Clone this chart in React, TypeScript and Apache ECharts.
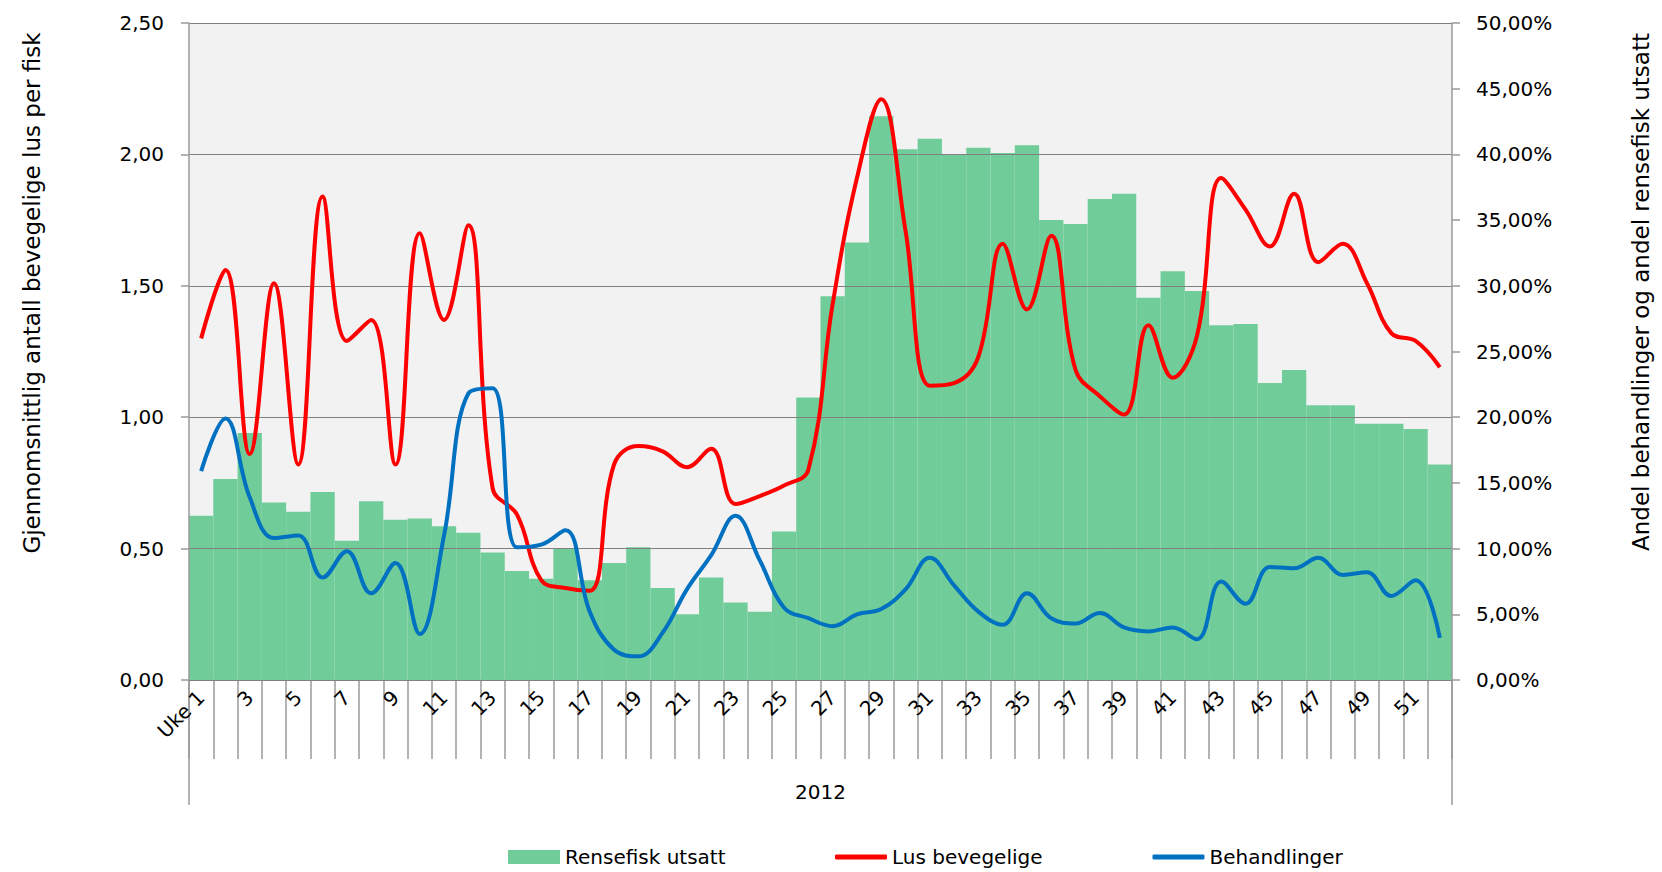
import React, { useEffect, useRef } from "react";
import * as echarts from "echarts";

const weeks = [
  "Uke 1", "2", "3", "4", "5", "6", "7", "8", "9", "10",
  "11", "12", "13", "14", "15", "16", "17", "18", "19", "20",
  "21", "22", "23", "24", "25", "26", "27", "28", "29", "30",
  "31", "32", "33", "34", "35", "36", "37", "38", "39", "40",
  "41", "42", "43", "44", "45", "46", "47", "48", "49", "50",
  "51", "52",
];
const yearGroup = ["2012"];

// Rensefisk utsatt (%), right axis
const rensefisk = [
  12.5, 15.3, 18.8, 13.5, 12.8, 14.3, 10.6, 13.6, 12.2, 12.3,
  11.7, 11.2, 9.7, 8.3, 7.7, 10.0, 7.6, 8.9, 10.1, 7.0,
  5.0, 7.8, 5.9, 5.2, 11.3, 21.5, 29.2, 33.3, 42.9, 40.4,
  41.2, 40.0, 40.5, 40.1, 40.7, 35.0, 34.7, 36.6, 37.0, 29.1,
  31.1, 29.6, 27.0, 27.1, 22.6, 23.6, 20.9, 20.9, 19.5, 19.5,
  19.1, 16.4,
];

// Lus bevegelige (per fish), left axis
const lus = [
  1.30, 1.56, 0.86, 1.51, 0.82, 1.84, 1.29, 1.37, 0.82, 1.70,
  1.37, 1.73, 0.73, 0.63, 0.38, 0.35, 0.34, 0.82, 0.89, 0.87,
  0.81, 0.88, 0.67, 0.70, 0.74, 0.80, 1.43, 1.91, 2.21, 1.71,
  1.12, 1.13, 1.23, 1.66, 1.41, 1.69, 1.18, 1.08, 1.01, 1.35,
  1.15, 1.31, 1.91, 1.79, 1.65, 1.85, 1.59, 1.66, 1.51, 1.32,
  1.29, 1.19,
];

// Behandlinger (%), right axis
const behandlinger = [
  15.9, 19.9, 13.9, 10.8, 11.0, 7.8, 9.8, 6.6, 8.9, 3.5,
  11.0, 21.8, 22.2, 10.1, 10.3, 11.4, 5.2, 2.3, 1.8, 3.6,
  6.9, 9.5, 12.5, 9.1, 5.5, 4.7, 4.1, 5.0, 5.4, 6.9,
  9.3, 7.2, 5.2, 4.2, 6.6, 4.7, 4.3, 5.1, 4.0, 3.7,
  4.0, 3.1, 7.5, 5.8, 8.6, 8.5, 9.3, 8.0, 8.2, 6.4,
  7.6, 3.2,
];

const FONT = "DejaVu Sans";
const AXIS_GRAY = "#9a9a9a";
const GRID_GRAY = "#808080";

export default function App() {
  const ref = useRef<HTMLDivElement>(null);

  useEffect(() => {
    if (!ref.current) return;
    const chart = echarts.init(ref.current, null, { renderer: "svg" });
    const gridBox = { left: 189, right: 210, top: 23, bottom: 192 };
    const legendText = { fontFamily: FONT, fontSize: 20, color: "#000" };
    chart.setOption({
      animation: false,
      backgroundColor: "#ffffff",
      textStyle: { fontFamily: FONT },
      grid: [
        { ...gridBox, show: true, backgroundColor: "#f2f2f2", borderWidth: 0 },
        { ...gridBox, show: false },
      ],
      legend: [
        {
          left: 503,
          top: 842,
          itemWidth: 52,
          itemHeight: 14,
          icon: "rect",
          textStyle: legendText,
          data: ["Rensefisk utsatt"],
        },
        {
          left: 830,
          top: 842,
          itemWidth: 52,
          itemHeight: 5,
          itemGap: 110,
          icon: "roundRect",
          textStyle: legendText,
          data: ["Lus bevegelige", "Behandlinger"],
        },
      ],
      xAxis: [
        {
          type: "category",
          gridIndex: 0,
          data: weeks,
          boundaryGap: true,
          axisLine: { show: true, lineStyle: { color: AXIS_GRAY, width: 1.5 } },
          axisTick: {
            show: true,
            interval: 0,
            length: 79,
            lineStyle: { color: AXIS_GRAY, width: 1.5 },
          },
          axisLabel: {
            interval: 1,
            rotate: 45,
            margin: 14,
            fontFamily: FONT,
            fontSize: 20,
            color: "#000",
          },
          splitLine: { show: false },
        },
        {
          type: "category",
          gridIndex: 1,
          data: yearGroup,
          boundaryGap: true,
          axisLine: { show: false },
          axisTick: {
            show: true,
            length: 125,
            lineStyle: { color: AXIS_GRAY, width: 1.5 },
          },
          axisLabel: {
            margin: 102,
            fontFamily: FONT,
            fontSize: 20,
            color: "#000",
          },
          splitLine: { show: false },
        },
      ],
      yAxis: [
        {
          type: "value",
          gridIndex: 0,
          position: "left",
          min: 0,
          max: 2.5,
          interval: 0.5,
          z: 3,
          axisLine: { show: true, lineStyle: { color: AXIS_GRAY, width: 1.5 } },
          axisTick: { show: true, length: 8, lineStyle: { color: AXIS_GRAY, width: 1.5 } },
          axisLabel: {
            margin: 25,
            fontFamily: FONT,
            fontSize: 20,
            color: "#000",
            formatter: (v: number) => v.toFixed(2).replace(".", ","),
          },
          splitLine: { show: true, lineStyle: { color: GRID_GRAY, width: 1 } },
        },
        {
          type: "value",
          gridIndex: 0,
          position: "right",
          min: 0,
          max: 50,
          interval: 5,
          z: 3,
          axisLine: { show: true, lineStyle: { color: AXIS_GRAY, width: 1.5 } },
          axisTick: { show: true, length: 8, lineStyle: { color: AXIS_GRAY, width: 1.5 } },
          axisLabel: {
            margin: 24,
            fontFamily: FONT,
            fontSize: 20,
            color: "#000",
            formatter: (v: number) => v.toFixed(2).replace(".", ",") + "%",
          },
          splitLine: { show: false },
        },
        {
          type: "value",
          gridIndex: 1,
          show: false,
          min: 0,
          max: 1,
        },
      ],
      graphic: [
        {
          type: "text",
          x: 32,
          y: 293,
          rotation: Math.PI / 2,
          style: {
            text: "Gjennomsnittlig antall bevegelige lus per fisk",
            fontFamily: FONT,
            fontSize: 23,
            fill: "#000",
            align: "center",
            verticalAlign: "middle",
            textAlign: "center",
            textVerticalAlign: "middle",
          },
        },
        {
          type: "text",
          x: 1641,
          y: 292,
          rotation: Math.PI / 2,
          style: {
            text: "Andel behandlinger og andel rensefisk utsatt",
            fontFamily: FONT,
            fontSize: 23,
            fill: "#000",
            align: "center",
            verticalAlign: "middle",
            textAlign: "center",
            textVerticalAlign: "middle",
          },
        },
      ],
      series: [
        {
          name: "Rensefisk utsatt",
          type: "bar",
          xAxisIndex: 0,
          yAxisIndex: 1,
          data: rensefisk,
          barCategoryGap: "0%",
          itemStyle: { color: "#70cd9a" },
          z: 2,
        },
        {
          name: "Lus bevegelige",
          type: "line",
          xAxisIndex: 0,
          yAxisIndex: 0,
          data: lus,
          smooth: 0.4,
          symbol: "none",
          lineStyle: { color: "#ff0000", width: 4 },
          itemStyle: { color: "#ff0000" },
          z: 5,
        },
        {
          name: "Behandlinger",
          type: "line",
          xAxisIndex: 0,
          yAxisIndex: 1,
          data: behandlinger,
          smooth: 0.4,
          symbol: "none",
          lineStyle: { color: "#0070c0", width: 4 },
          itemStyle: { color: "#0070c0" },
          z: 5,
        },
      ],
    });
    return () => chart.dispose();
  }, []);

  return (
    <div
      ref={ref}
      style={{ position: "fixed", left: 0, top: 0, width: 1662, height: 872 }}
    />
  );
}
